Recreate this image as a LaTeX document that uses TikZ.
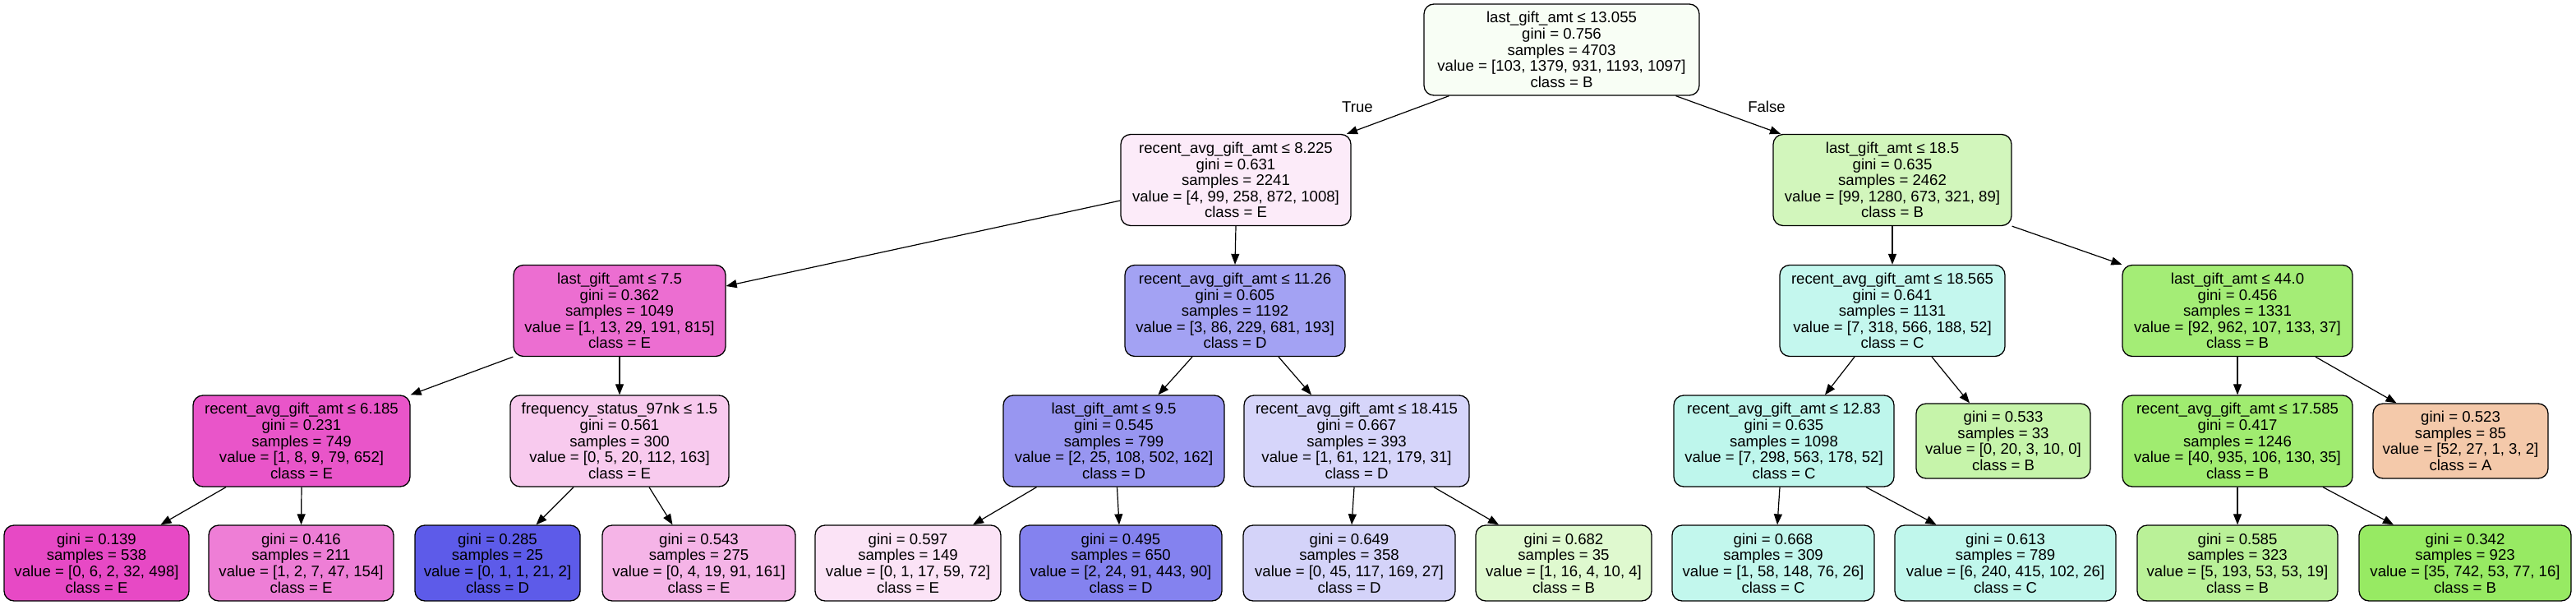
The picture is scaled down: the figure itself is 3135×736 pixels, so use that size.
\documentclass[tikz,border=0pt]{standalone}
\usepackage{fontspec}
\setmainfont{Liberation Sans}
\usetikzlibrary{arrows.meta}
\definecolor{clsA}{RGB}{229,129,57}
\definecolor{clsB}{RGB}{123,229,57}
\definecolor{clsC}{RGB}{57,229,197}
\definecolor{clsD}{RGB}{60,57,229}
\definecolor{clsE}{RGB}{229,57,192}
\begin{document}
\begin{tikzpicture}[x=1pt,y=-1pt,
  font=\fontsize{18.6}{19.6}\selectfont,
  box/.style={draw=black,line width=1.3pt,rounded corners=12pt,align=center,inner sep=0pt,minimum height=111pt},
  leaf/.style={box,minimum height=92pt},
  edge/.style={-{Triangle[length=13pt,width=10pt]},line width=1.2pt}]
  \fill[white] (0,0) rectangle (3135,736);
  \useasboundingbox (0,0) rectangle (3135,736);
  % split nodes
  \node[box,fill=clsB!5,minimum width=335pt] (n0) at (1900.5,60.5) {last\_gift\_amt ≤ 13.055\\gini = 0.756\\samples = 4703\\value = [103, 1379, 931, 1193, 1097]\\class = B};
  \node[box,fill=clsE!10,minimum width=280pt] (n1) at (1504,219) {recent\_avg\_gift\_amt ≤ 8.225\\gini = 0.631\\samples = 2241\\value = [4, 99, 258, 872, 1008]\\class = E};
  \node[box,fill=clsB!34,minimum width=290pt] (n2) at (2303,219) {last\_gift\_amt ≤ 18.5\\gini = 0.635\\samples = 2462\\value = [99, 1280, 673, 321, 89]\\class = B};
  \node[box,fill=clsE!73,minimum width=258pt] (n3) at (754,378) {last\_gift\_amt ≤ 7.5\\gini = 0.362\\samples = 1049\\value = [1, 13, 29, 191, 815]\\class = E};
  \node[box,fill=clsD!47,minimum width=268pt] (n4) at (1503,378) {recent\_avg\_gift\_amt ≤ 11.26\\gini = 0.605\\samples = 1192\\value = [3, 86, 229, 681, 193]\\class = D};
  \node[box,fill=clsC!30,minimum width=274pt] (n5) at (2303,378) {recent\_avg\_gift\_amt ≤ 18.565\\gini = 0.641\\samples = 1131\\value = [7, 318, 566, 188, 52]\\class = C};
  \node[box,fill=clsB!69,minimum width=280pt] (n6) at (2723,378) {last\_gift\_amt ≤ 44.0\\gini = 0.456\\samples = 1331\\value = [92, 962, 107, 133, 37]\\class = B};
  \node[box,fill=clsE!86,minimum width=264pt] (n7) at (367,536.5) {recent\_avg\_gift\_amt ≤ 6.185\\gini = 0.231\\samples = 749\\value = [1, 8, 9, 79, 652]\\class = E};
  \node[box,fill=clsE!27,minimum width=266pt] (n8) at (754,536.5) {frequency\_status\_97nk ≤ 1.5\\gini = 0.561\\samples = 300\\value = [0, 5, 20, 112, 163]\\class = E};
  \node[box,fill=clsD!53,minimum width=269pt] (n9) at (1355.5,536.5) {last\_gift\_amt ≤ 9.5\\gini = 0.545\\samples = 799\\value = [2, 25, 108, 502, 162]\\class = D};
  \node[box,fill=clsD!21,minimum width=274pt] (n10) at (1651,536.5) {recent\_avg\_gift\_amt ≤ 18.415\\gini = 0.667\\samples = 393\\value = [1, 61, 121, 179, 31]\\class = D};
  \node[box,fill=clsC!33,minimum width=268pt] (n11) at (2171,536.5) {recent\_avg\_gift\_amt ≤ 12.83\\gini = 0.635\\samples = 1098\\value = [7, 298, 563, 178, 52]\\class = C};
  \node[leaf,fill=clsB!43,minimum width=212pt,minimum height=91pt] (n12) at (2438,536.5) {gini = 0.533\\samples = 33\\value = [0, 20, 3, 10, 0]\\class = B};
  \node[box,fill=clsB!72,minimum width=280pt] (n13) at (2723,536.5) {recent\_avg\_gift\_amt ≤ 17.585\\gini = 0.417\\samples = 1246\\value = [40, 935, 106, 130, 35]\\class = B};
  \node[leaf,fill=clsA!43,minimum width=213pt,minimum height=91pt] (n14) at (2994.5,536.5) {gini = 0.523\\samples = 85\\value = [52, 27, 1, 3, 2]\\class = A};
  % leaves
  \node[leaf,fill=clsE!92,minimum width=225pt] (l1) at (117.5,685) {gini = 0.139\\samples = 538\\value = [0, 6, 2, 32, 498]\\class = E};
  \node[leaf,fill=clsE!65,minimum width=225pt] (l2) at (366.5,685) {gini = 0.416\\samples = 211\\value = [1, 2, 7, 47, 154]\\class = E};
  \node[leaf,fill=clsD!83,minimum width=201pt] (l3) at (605.5,685) {gini = 0.285\\samples = 25\\value = [0, 1, 1, 21, 2]\\class = D};
  \node[leaf,fill=clsE!38,minimum width=235pt] (l4) at (850.5,685) {gini = 0.543\\samples = 275\\value = [0, 4, 19, 91, 161]\\class = E};
  \node[leaf,fill=clsE!14,minimum width=226pt] (l5) at (1105,685) {gini = 0.597\\samples = 149\\value = [0, 1, 17, 59, 72]\\class = E};
  \node[leaf,fill=clsD!63,minimum width=246pt] (l6) at (1364,685) {gini = 0.495\\samples = 650\\value = [2, 24, 91, 443, 90]\\class = D};
  \node[leaf,fill=clsD!22,minimum width=258pt] (l7) at (1642,685) {gini = 0.649\\samples = 358\\value = [0, 45, 117, 169, 27]\\class = D};
  \node[leaf,fill=clsB!24,minimum width=214pt] (l8) at (1903,685) {gini = 0.682\\samples = 35\\value = [1, 16, 4, 10, 4]\\class = B};
  \node[leaf,fill=clsC!31,minimum width=246pt] (l9) at (2158,685) {gini = 0.668\\samples = 309\\value = [1, 58, 148, 76, 26]\\class = C};
  \node[leaf,fill=clsC!32,minimum width=269pt] (l10) at (2440.5,685) {gini = 0.613\\samples = 789\\value = [6, 240, 415, 102, 26]\\class = C};
  \node[leaf,fill=clsB!52,minimum width=244pt] (l11) at (2723,685) {gini = 0.585\\samples = 323\\value = [5, 193, 53, 53, 19]\\class = B};
  \node[leaf,fill=clsB!79,minimum width=258pt] (l12) at (3000,685) {gini = 0.342\\samples = 923\\value = [35, 742, 53, 77, 16]\\class = B};
  % edges
  \draw[edge] ([xshift=-137pt]n0.south) -- ([xshift=135pt]n1.north);
  \draw[edge] ([xshift=139pt]n0.south) -- ([xshift=-136pt]n2.north);
  \node (t) at (1652,130) {True};
  \node (f) at (2150,130) {False};
  \draw[edge] ([yshift=-25pt]n1.west) -- ([yshift=30pt]n3.east);
  \draw[edge] (n1.south) -- (n4.north);
  \draw[edge] (n2.south) -- (n5.north);
  \draw[edge] (n2.south east) -- (n6.north west);
  \draw[edge] (n3.south west) -- (n7.north east);
  \draw[edge] (n3.south) -- (n8.north);
  \draw[edge] ([xshift=-52pt]n4.south) -- ([xshift=54pt]n9.north);
  \draw[edge] ([xshift=53pt]n4.south) -- ([xshift=-55pt]n10.north);
  \draw[edge] ([xshift=-46pt]n5.south) -- ([xshift=50pt]n11.north);
  \draw[edge] ([xshift=48pt]n5.south) -- ([xshift=-41pt]n12.north);
  \draw[edge] (n6.south) -- (n13.north);
  \draw[edge] ([xshift=95pt]n6.south) -- ([xshift=-78pt]n14.north);
  \draw[edge] ([xshift=-92pt]n7.south) -- ([xshift=78pt]l1.north);
  \draw[edge] (n7.south) -- (l2.north);
  \draw[edge] ([xshift=-56pt]n8.south) -- ([xshift=47pt]l3.north);
  \draw[edge] ([xshift=36pt]n8.south) -- ([xshift=-32pt]l4.north);
  \draw[edge] ([xshift=-94pt]n9.south) -- ([xshift=79pt]l5.north);
  \draw[edge] ([xshift=4pt]n9.south) -- ([xshift=-2pt]l6.north);
  \draw[edge] ([xshift=-3pt]n10.south) -- ([xshift=3pt]l7.north);
  \draw[edge] ([xshift=94pt]n10.south) -- ([xshift=-79pt]l8.north);
  \draw[edge] ([xshift=-5pt]n11.south) -- ([xshift=5pt]l9.north);
  \draw[edge] ([xshift=100pt]n11.south) -- ([xshift=-84pt]l10.north);
  \draw[edge] (n13.south) -- (l11.north);
  \draw[edge] ([xshift=104pt]n13.south) -- ([xshift=-87pt]l12.north);
\end{tikzpicture}
\end{document}
